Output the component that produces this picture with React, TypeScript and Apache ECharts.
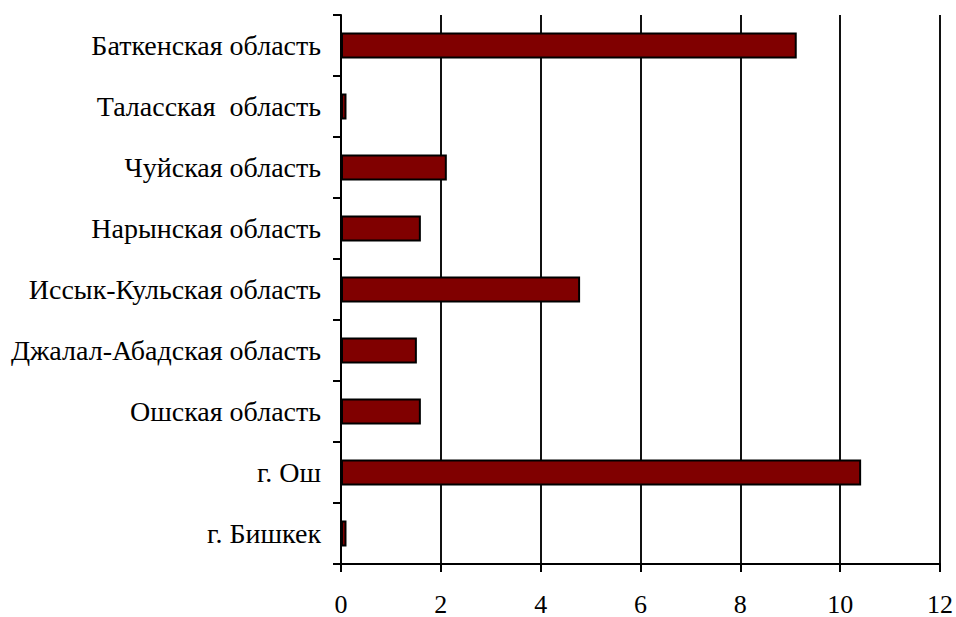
import React, { useEffect, useRef } from "react";
import * as echarts from "echarts";

const categories = [
  "г. Бишкек",
  "г. Ош",
  "Ошская область",
  "Джалал-Абадская область",
  "Иссык-Кульская область",
  "Нарынская область",
  "Чуйская область",
  "Таласская  область",
  "Баткенская область",
];
const values = [0.11, 10.42, 1.6, 1.52, 4.79, 1.6, 2.12, 0.11, 9.13];
const xTicks = { min: 0, max: 12, interval: 2 };

export default function App() {
  const ref = useRef<HTMLDivElement>(null);
  useEffect(() => {
    document.body.style.margin = "0";
    document.body.style.overflow = "hidden";
    if (!ref.current) return;
    const chart = echarts.init(ref.current, null, { renderer: "svg" });
    const font = "Liberation Serif, Times New Roman, DejaVu Serif, serif";
    chart.setOption({
      animation: false,
      backgroundColor: "#ffffff",
      textStyle: { fontFamily: font },
      grid: { left: 341, right: 16, top: 15, bottom: 51, containLabel: false },
      xAxis: {
        type: "value",
        min: xTicks.min,
        max: xTicks.max,
        interval: xTicks.interval,
        axisLine: { show: true, lineStyle: { color: "#000", width: 2 } },
        axisTick: { show: true, length: 8, lineStyle: { color: "#000", width: 2 } },
        axisLabel: { color: "#000", fontFamily: font, fontSize: 26, margin: 27 },
        splitLine: { show: true, lineStyle: { color: "#111", width: 2 } },
      },
      yAxis: {
        type: "category",
        data: categories,
        axisLine: { show: true, lineStyle: { color: "#000", width: 2 } },
        axisTick: { show: true, length: 8, alignWithLabel: false, lineStyle: { color: "#000", width: 2 } },
        axisLabel: { color: "#000", fontFamily: font, fontSize: 28, margin: 20 },
        splitLine: { show: false },
      },
      series: [
        {
          type: "bar",
          data: values,
          barWidth: 26,
          itemStyle: { color: "#800000", borderColor: "#000", borderWidth: 2 },
        },
      ],
    });
    return () => chart.dispose();
  }, []);
  return <div ref={ref} style={{ width: 956, height: 617 }} />;
}
